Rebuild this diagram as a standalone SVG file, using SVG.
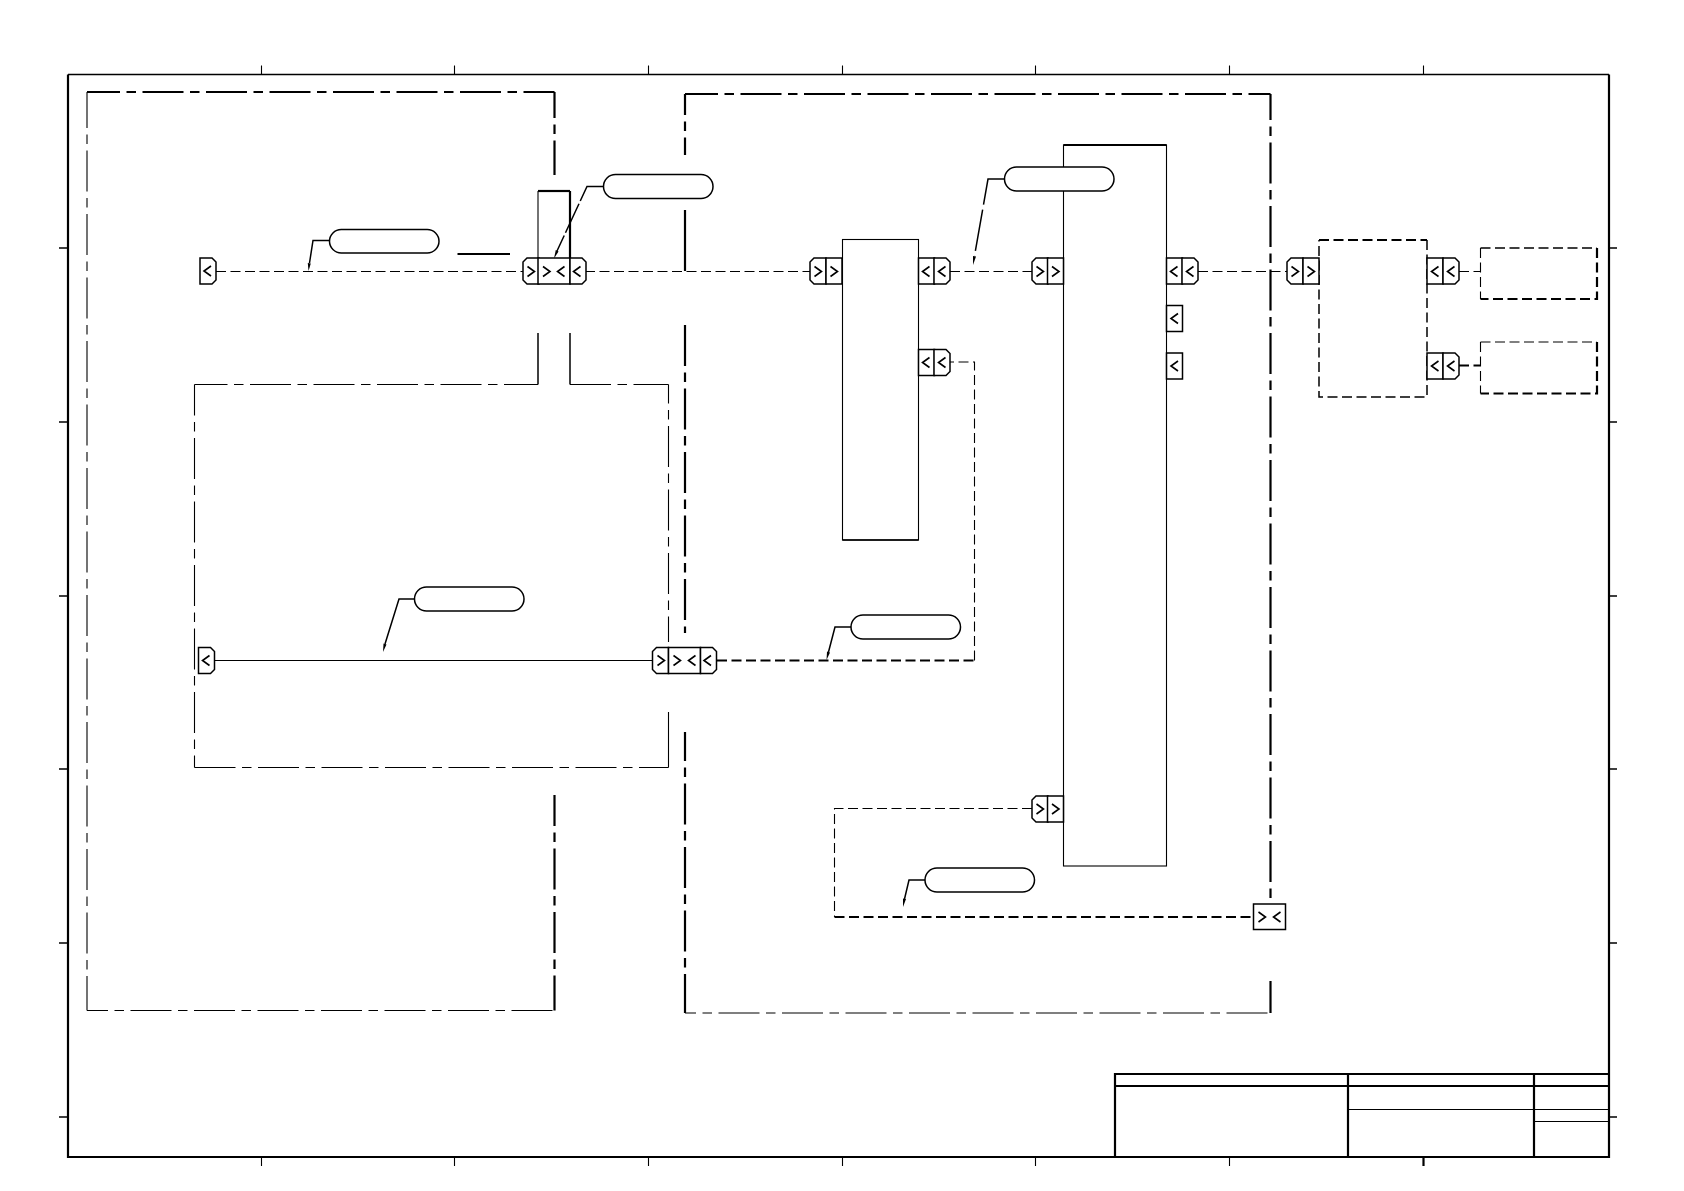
<svg xmlns="http://www.w3.org/2000/svg" xmlns:xlink="http://www.w3.org/1999/xlink" width="1684" height="1191" viewBox="0 0 1684 1191">
<style>
.l{fill:none;stroke:#000;stroke-width:1.1}
.m{stroke-width:1.5}
.k{stroke-width:2.2}
.dd{stroke-dasharray:41 6.5 9.5 6.5}
.d{stroke-dasharray:10 4.5}
.c{fill:#fff;stroke:#000;stroke-width:1.5}
.ch{fill:none;stroke:#000;stroke-width:1.6}
.ah{fill:#000;stroke:none}
</style>
<defs>
<path id="pl" d="M4,0H16V26H4L0,22V4Z"/>
<path id="pr" d="M0,0H12L16,4V22L12,26H0Z"/>
<rect id="cell" width="16" height="26"/>
<polyline id="gt" points="-3.5,-5 3.5,0 -3.5,5"/>
<polyline id="lt" points="3.5,-5 -3.5,0 3.5,5"/>
</defs>
<rect width="1684" height="1191" fill="#fff"/>
<g id="sheet-frame">
<path class="l m" d="M68,74.500H1609"/>
<path class="l k" d="M68,74.500V1157H1609V74.500"/>
<path class="l" d="M261.500,65.500V74M454.500,65.500V74M648.500,65.500V74M842.500,65.500V74M1035.500,65.500V74M1229.500,65.500V74M1423.500,65.500V74"/>
<path class="l" d="M261.500,1158V1166M454.500,1158V1166M648.500,1158V1166M842.500,1158V1166M1035.500,1158V1166M1229.500,1158V1166"/>
<path class="l k" d="M1423.500,1158V1166"/>
<path class="l m" d="M59,248H68M59,422H68M59,596H68M59,769H68M59,943H68M59,1117H68"/>
<path class="l m" d="M1609,248H1617M1609,422H1617M1609,596H1617M1609,769H1617M1609,943H1617M1609,1117H1617"/>
</g>
<g id="title-block">
<path class="l k" d="M1115,1157V1074H1609M1115,1086H1609M1348,1074V1157M1534,1074V1157"/>
<path class="l" d="M1348,1109.500H1609M1534,1121.500H1609"/>
</g>
<g id="boundary-a">
<path class="l k dd" stroke-dashoffset="8" d="M87,92H554.500"/>
<path class="l dd" stroke-dashoffset="5" d="M87,92V1010.500"/>
<path class="l dd" stroke-dashoffset="20" d="M87,1010.500H554.500"/>
<path class="l k dd" stroke-dashoffset="15" d="M554.500,92V175"/>
<path class="l k dd" stroke-dashoffset="10" d="M554.500,795V1010.500"/>
</g>
<g id="boundary-b">
<path class="l k dd" stroke-dashoffset="8" d="M685,94H1270.500"/>
<path class="l k dd" stroke-dashoffset="20" d="M685,94V155"/>
<path class="l k" d="M685,210V271"/>
<path class="l k dd" stroke-dashoffset="0" d="M685,325V633"/>
<path class="l k dd" stroke-dashoffset="12" d="M685,732V1013"/>
<path class="l dd" stroke-dashoffset="30" d="M685,1013H1270.500"/>
<path class="l k dd" stroke-dashoffset="15" d="M1270.500,94V905"/>
<path class="l k" d="M1270.500,981V1013"/>
</g>
<g id="boundary-c">
<path class="l dd" stroke-dashoffset="8" d="M194.500,384.500H538"/>
<path class="l m" d="M538,384.500V333"/>
<path class="l m" d="M570,333V384.500"/>
<path class="l dd" stroke-dashoffset="0" d="M570,384.500H668.500"/>
<path class="l dd" stroke-dashoffset="22" d="M668.500,384.500V642"/>
<path class="l dd" stroke-dashoffset="10" d="M194.500,384.500V767.500"/>
<path class="l dd" stroke-dashoffset="0" d="M194.500,767.500H668.500"/>
<path class="l" d="M668.500,767.500V712"/>
</g>
<g id="connectors">
<path class="l d" d="M216,271.500H523"/>
<path class="l d" d="M585,271.500H810"/>
<path class="l d" d="M950,271.500H1032"/>
<path class="l d" d="M1198,271.500H1287"/>
<path class="l d" d="M1459,271.500H1480"/>
<path class="l k d" d="M1459,365.500H1480"/>
<path class="l" d="M214,660.500H652"/>
<path class="l k d" d="M717,660.500H974.500"/>
<path class="l d" d="M974.500,660.500V362H950"/>
<path class="l d" d="M1032,808.500H834.500V917"/>
<path class="l k d" d="M834.500,917H1253"/>
<path class="l k" d="M457.500,254H510"/>
</g>
<g id="block-tab">
<path class="l" d="M538,284V191"/>
<path class="l k" d="M538,191H570"/>
<path class="l k" d="M570,191V284"/>
</g>
<g id="block-1"><rect class="l" x="842.500" y="239.500" width="76" height="300.500"/><path class="l m" d="M842.500,540H918.500"/></g>
<g id="block-2">
<rect class="l" x="1063.500" y="145" width="103" height="721"/>
<path class="l k" d="M1063.500,145H1166.500"/>
</g>
<g id="block-3"><path class="l k d" d="M1319,240H1427"/><path class="l m d" d="M1427,240V397H1319V240"/></g>
<g id="box-upper"><path class="l m d" d="M1480.500,248H1597"/><path class="l k d" d="M1597,248V299H1480.500"/><path class="l d" d="M1480.500,248V299"/></g>
<g id="box-lower"><path class="l d" d="M1480.500,342H1597"/><path class="l k d" d="M1597,342V393.500H1480.500"/><path class="l d" d="M1480.500,342V393.500"/></g>
<g id="port-a" class="c"><use href="#pr" x="200" y="258"/><use class="ch" href="#lt" x="207.500" y="271"/></g>
<g id="port-b" class="c">
<use href="#pl" x="523" y="258"/><rect x="538" y="258" width="32" height="26"/><use href="#pr" x="570" y="258"/>
<use class="ch" href="#gt" x="531" y="271.500"/><use class="ch" href="#gt" x="546.500" y="271.500"/><use class="ch" href="#lt" x="561" y="271.500"/><use class="ch" href="#lt" x="577" y="271.500"/>
</g>
<g id="port-c" class="c"><use href="#pl" x="810" y="258"/><use href="#cell" x="826" y="258"/><use class="ch" href="#gt" x="818" y="271.500"/><use class="ch" href="#gt" x="834" y="271.500"/></g>
<g id="port-d" class="c"><use href="#cell" x="918.500" y="258"/><use href="#pr" x="934" y="258"/><use class="ch" href="#lt" x="926" y="271.500"/><use class="ch" href="#lt" x="942" y="271.500"/></g>
<g id="port-e" class="c"><use href="#cell" x="918.500" y="349.500"/><use href="#pr" x="934" y="349.500"/><use class="ch" href="#lt" x="926" y="362.500"/><use class="ch" href="#lt" x="942" y="362.500"/></g>
<g id="port-f" class="c"><use href="#pl" x="1032" y="258"/><use href="#cell" x="1047.500" y="258"/><use class="ch" href="#gt" x="1040" y="271.500"/><use class="ch" href="#gt" x="1055.500" y="271.500"/></g>
<g id="port-g" class="c"><use href="#cell" x="1166.500" y="258"/><use href="#pr" x="1182" y="258"/><use class="ch" href="#lt" x="1174" y="271.500"/><use class="ch" href="#lt" x="1190" y="271.500"/></g>
<g id="port-h" class="c"><use href="#cell" x="1166.500" y="305.500"/><use class="ch" href="#lt" x="1174.500" y="318.500"/></g>
<g id="port-i" class="c"><use href="#cell" x="1166.500" y="353"/><use class="ch" href="#lt" x="1174.500" y="366"/></g>
<g id="port-j" class="c"><use href="#pl" x="1287" y="258"/><use href="#cell" x="1303" y="258"/><use class="ch" href="#gt" x="1295" y="271.500"/><use class="ch" href="#gt" x="1311" y="271.500"/></g>
<g id="port-k" class="c"><use href="#cell" x="1427" y="258"/><use href="#pr" x="1443" y="258"/><use class="ch" href="#lt" x="1435" y="271.500"/><use class="ch" href="#lt" x="1451" y="271.500"/></g>
<g id="port-l" class="c"><use href="#cell" x="1427" y="353"/><use href="#pr" x="1443" y="353"/><use class="ch" href="#lt" x="1435" y="366"/><use class="ch" href="#lt" x="1451" y="366"/></g>
<g id="port-m" class="c"><use href="#pr" x="198.500" y="647.500"/><use class="ch" href="#lt" x="206" y="660.500"/></g>
<g id="port-n" class="c">
<use href="#pl" x="652.500" y="647.500"/><rect x="668.500" y="647.500" width="32" height="26"/><use href="#pr" x="700.500" y="647.500"/>
<use class="ch" href="#gt" x="661" y="660.500"/><use class="ch" href="#gt" x="677" y="660.500"/><use class="ch" href="#lt" x="692" y="660.500"/><use class="ch" href="#lt" x="707.500" y="660.500"/>
</g>
<g id="port-o" class="c"><use href="#pl" x="1032" y="796"/><use href="#cell" x="1047.500" y="796"/><use class="ch" href="#gt" x="1040" y="809"/><use class="ch" href="#gt" x="1055.500" y="809"/></g>
<g id="port-p" class="c"><rect x="1253.500" y="904" width="32" height="25.500"/><use class="ch" href="#gt" x="1262" y="917"/><use class="ch" href="#lt" x="1277" y="917"/></g>
<g id="tag-1">
<path class="l m" d="M329,240.500H313L309.500,263"/><path class="ah" d="M308.500,271L307.800,263 310.800,263.500Z"/>
<rect class="c" x="329.500" y="229.500" width="109.500" height="23.500" rx="11.750"/>
</g>
<g id="tag-2">
<path class="l m" stroke-dasharray="32 3" d="M603,186.500H587L557,251"/><path class="ah" d="M554,258.500L555.800,250 558.500,251.500Z"/>
<rect class="c" x="603.500" y="174.500" width="109.500" height="24" rx="12"/>
</g>
<g id="tag-3">
<path class="l m" stroke-dasharray="42 5" d="M1004,179H988L974.500,256"/><path class="ah" d="M973,265L973,256 976,256.500Z"/>
<rect class="c" x="1004.500" y="167" width="109.500" height="24" rx="12"/>
</g>
<g id="tag-4">
<path class="l m" d="M414,599H399L385,644"/><path class="ah" d="M383,652L383.500,643.500 386.500,644.500Z"/>
<rect class="c" x="414.500" y="587" width="109.500" height="24" rx="12"/>
</g>
<g id="tag-5">
<path class="l m" d="M851,627H835L828.500,652"/><path class="ah" d="M826.500,660L827,651.500 830,652.500Z"/>
<rect class="c" x="851" y="615" width="109.500" height="24" rx="12"/>
</g>
<g id="tag-6">
<path class="l m" d="M925,880H909L904.500,899"/><path class="ah" d="M903,907L903,898.500 906,899Z"/>
<rect class="c" x="925" y="868" width="109.500" height="24" rx="12"/>
</g>
</svg>
